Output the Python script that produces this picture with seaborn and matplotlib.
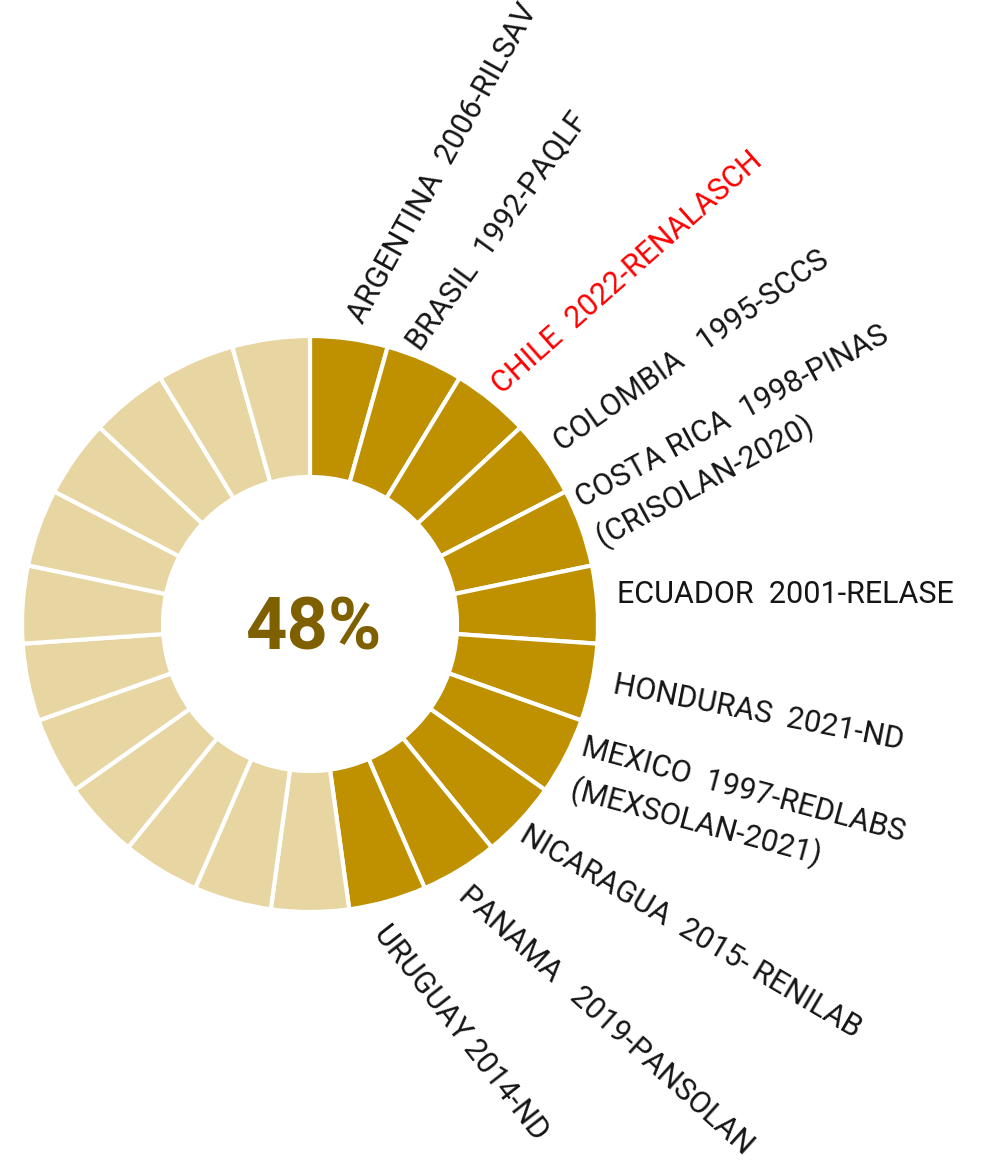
import matplotlib
matplotlib.use("Agg")
import matplotlib.pyplot as plt
import seaborn as sns
import numpy as np

# ---------------- data ----------------
labels = [
    "ARGENTINA  2006-RILSAV",
    "BRASIL  1992-PAQLF",
    "CHILE  2022-RENALASCH",
    "COLOMBIA   1995-SCCS",
    "COSTA RICA  1998-PINAS\n(CRISOLAN-2020)",
    "ECUADOR  2001-RELASE",
    "HONDURAS  2021-ND",
    "MEXICO  1997-REDLABS\n(MEXSOLAN-2021)",
    "NICARAGUA  2015- RENILAB",
    "PANAMA   2019-PANSOLAN",
    "URUGUAY 2014-ND",
]
highlight = ["CHILE  2022-RENALASCH"]
# 23 equal segments; 1 = country with network, 0 = without
segment_sizes = [1, 1, 1, 1, 1, 1, 1, 1, 1, 1, 1, 1, 1, 1, 1, 1, 1, 1, 1, 1, 1, 1, 1]
segment_active = [1, 1, 1, 1, 1, 1, 1, 1, 1, 1, 1, 0, 0, 0, 0, 0, 0, 0, 0, 0, 0, 0, 0]
center_text = "48%"

# ---------------- style / layout ----------------
sns.set_style("white")
plt.rcParams['font.family'] = ['Roboto', 'DejaVu Sans']

DARK = "#BF9000"
LIGHT = "#E7D6A2"
TEXT_DARK = "#7F6000"

W, H = 997, 1161
fig = plt.figure(figsize=(W / 100, H / 100), dpi=100)
ax = fig.add_axes([0, 0, 1, 1])

cx, cy = 310, H - 624
R_OUT, R_IN = 288, 147

colors = [DARK if a else LIGHT for a in segment_active]
ax.pie(segment_sizes, colors=colors, startangle=90, counterclock=False,
       center=(cx, cy), radius=R_OUT,
       wedgeprops=dict(width=R_OUT - R_IN, edgecolor="white", linewidth=3))

# label anchor offsets (pixels from ring centre, y downward) and rotations
label_offsets = [(53, -299), (110, -272), (192, -229), (252, -172), (272, -116),
                 (307, -21), (302, 69), (270, 131), (208, 216), (147, 274), (63, 310)]
label_rot = [61, 54, 41.5, 35, 28.5, 0, -11, -15, -30.5, -42, -52]
LINE_STEP = 44  # px between lines of a two-line label

for lab, (dx, dy), rot in zip(labels, label_offsets, label_rot):
    col = "#FF0000" if lab in highlight else "#151515"
    t = np.deg2rad(rot)
    down = (np.sin(t), -np.cos(t))
    for i, line in enumerate(lab.split("\n")):
        x = cx + dx + i * LINE_STEP * down[0]
        y = cy - dy + i * LINE_STEP * down[1]
        ax.text(x, y, line, rotation=rot, rotation_mode="anchor",
                ha="left", va="baseline", fontsize=22, color=col)

ax.text(cx + 3, H - 650, center_text, ha="center", va="baseline",
        fontsize=52, fontweight="bold", color=TEXT_DARK)

ax.set_xlim(0, W)
ax.set_ylim(0, H)
ax.set_aspect("equal")
ax.axis("off")

fig.savefig("out.png", dpi=100, facecolor="white")
